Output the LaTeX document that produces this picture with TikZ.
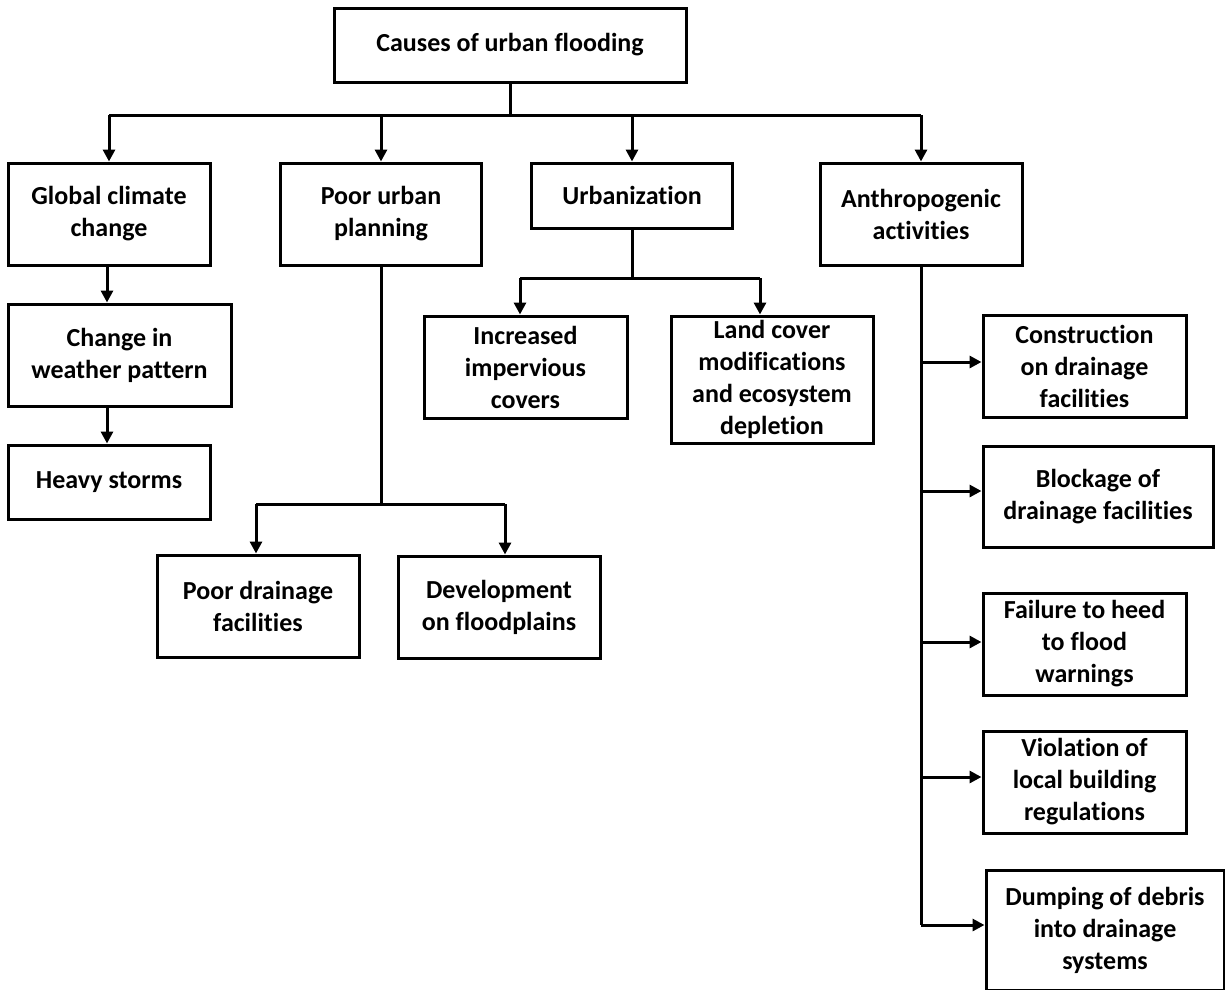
\documentclass[tikz,border=0pt]{standalone}
\usepackage{fontspec}
\setmainfont[Ligatures={NoCommon,NoRequired,NoContextual}]{Carlito}
\usetikzlibrary{arrows.meta}
\begin{document}
\begin{tikzpicture}[x=1pt,y=-1pt,
  box/.style={draw, line width=3pt, inner sep=0pt, align=center,
    font=\fontsize{26}{32}\selectfont\bfseries},
  conn/.style={line width=3pt},
  arr/.style={conn, -{Triangle[length=12pt,width=12pt]}}]
\useasboundingbox (0,0) rectangle (1225,989);
\clip (0,0) rectangle (1225,989);
\fill[white] (0,0) rectangle (1225,989);

\node[box, minimum width=352pt, minimum height=74pt] (top) at (510,45) {Causes of urban flooding};

\node[box, minimum width=202pt, minimum height=102pt] (gcc) at (109,214) {Global climate\\change};
\node[box, minimum width=201pt, minimum height=102pt] (pup) at (381,214) {Poor urban\\planning};
\node[box, minimum width=201pt, minimum height=65pt] (urb) at (632,195.5) {Urbanization};
\node[box, minimum width=202pt, minimum height=102pt] (ant) at (921,214) {Anthropogenic\\activities};

\node[box, minimum width=223pt, minimum height=102pt] (cwp) at (119.5,355) {Change in\\weather pattern};
\node[box, minimum width=202pt, minimum height=74pt] (hs) at (109,482) {Heavy storms};

\node[box, minimum width=202pt, minimum height=102pt] (pdf) at (258,606) {Poor drainage\\facilities};
\node[box, minimum width=202pt, minimum height=102pt] (dof) at (499,607) {Development\\on floodplains};

\node[box, minimum width=203pt, minimum height=102pt] (iic) at (525.5,367) {Increased\\impervious\\covers};
\node[box, minimum width=202pt, minimum height=127pt] (lcm) at (772,379.5) {Land cover\\modifications\\and ecosystem\\depletion};

\node[box, minimum width=203pt, minimum height=102pt] (con) at (1084.5,366) {Construction\\on drainage\\facilities};
\node[box, minimum width=230pt, minimum height=101pt] (blk) at (1098,496.5) {Blockage of\\drainage facilities};
\node[box, minimum width=203pt, minimum height=102pt] (fail) at (1084.5,644) {Failure to heed\\to flood\\warnings};
\node[box, minimum width=203pt, minimum height=102pt] (vio) at (1084.5,782) {Violation of\\local building\\regulations};
\node[box, minimum width=238pt, minimum height=120pt] (dump) at (1105,930) {Dumping of debris\\into drainage\\systems};

% top level
\coordinate (b0) at (510,115);
\draw[conn] (top.south) -- (b0);
\draw[conn] (gcc.north |- b0) -- (ant.north |- b0);
\foreach \n in {gcc,pup,urb,ant} \draw[arr] (\n.north |- b0) -- (\n.north);

% global climate chain
\coordinate (g1) at (107,0);
\draw[arr] (g1 |- gcc.south) -- (g1 |- cwp.north);
\draw[arr] (g1 |- cwp.south) -- (g1 |- hs.north);

% poor urban planning
\coordinate (p1) at (256,504);
\coordinate (p2) at (505,504);
\draw[conn] (pup.south) -- (pup.south |- p1);
\draw[conn] (p1) -- (p2);
\draw[arr] (p1) -- (p1 |- pdf.north);
\draw[arr] (p2) -- (p2 |- dof.north);

% urbanization
\coordinate (u1) at (520,278);
\coordinate (u2) at (760,278);
\draw[conn] (urb.south) -- (urb.south |- u1);
\draw[conn] (u1) -- (u2);
\draw[arr] (u1) -- (u1 |- iic.north);
\draw[arr] (u2) -- (u2 |- lcm.north);

% anthropogenic
\coordinate (a1) at (921,362);
\coordinate (a2) at (921,491);
\coordinate (a3) at (921,642);
\coordinate (a4) at (921,777);
\coordinate (a5) at (921,925);
\draw[conn] (ant.south) -- (a5);
\draw[arr] (a1) -- (a1 -| con.west);
\draw[arr] (a2) -- (a2 -| blk.west);
\draw[arr] (a3) -- (a3 -| fail.west);
\draw[arr] (a4) -- (a4 -| vio.west);
\draw[arr] (a5) -- (a5 -| dump.west);
\end{tikzpicture}
\end{document}
